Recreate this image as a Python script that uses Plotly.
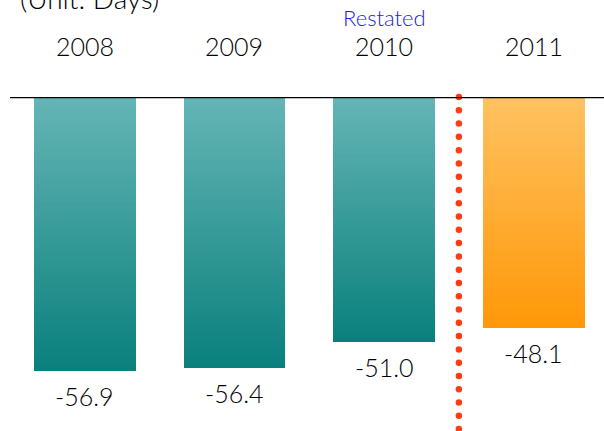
import numpy as np
import plotly.graph_objects as go

years = ["2008", "2009", "2010", "2011"]
values = [-56.9, -56.4, -51.0, -48.1]
value_labels = ["-56.9", "-56.4", "-51.0", "-48.1"]
unit_label = "(Unit: Days)"
restated_label = "Restated"

TEAL_TOP = (102, 182, 182)
TEAL_BOT = (10, 128, 124)
ORANGE_TOP = (255, 194, 98)
ORANGE_BOT = (255, 152, 8)

def mix(c1, c2, t):
    return "rgb(%d,%d,%d)" % tuple(round(a + (b - a) * t) for a, b in zip(c1, c2))

xpos = list(range(len(years)))
fig = go.Figure()

N = 60
for k in range(N):
    frac = (N - k) / N
    ys = [v * frac for v in values]
    cols = []
    for i in range(len(years)):
        if i == 3:
            cols.append(mix(ORANGE_TOP, ORANGE_BOT, frac))
        else:
            cols.append(mix(TEAL_TOP, TEAL_BOT, frac))
    fig.add_trace(go.Bar(x=xpos, y=ys, width=0.68, marker=dict(color=cols, line=dict(width=0)),
                         showlegend=False, hoverinfo="skip"))

# dotted separator between restated and new data
dot_y = np.arange(0, -72, -2.76)
fig.add_trace(go.Scatter(x=[2.5] * len(dot_y), y=dot_y, mode="markers",
                         marker=dict(color="#ff3c14", size=6.5), showlegend=False,
                         cliponaxis=False, hoverinfo="skip"))

FONT = "Lato, 'Noto Sans', sans-serif"
W = 300
annotations = []
for i, (yr, v, lab) in enumerate(zip(years, values, value_labels)):
    annotations.append(dict(x=i, y=1, xref="x", yref="paper", text=yr, showarrow=False,
                            yanchor="middle", yshift=51,
                            font=dict(size=25, color="#000000", family=FONT, weight=W)))
    annotations.append(dict(x=i, y=v, xref="x", yref="y", text=lab, showarrow=False,
                            yanchor="middle", yshift=-25,
                            font=dict(size=25, color="#000000", family=FONT, weight=W)))
annotations.append(dict(x=2, y=1, xref="x", yref="paper", text=restated_label, showarrow=False,
                        yanchor="middle", yshift=80,
                        font=dict(size=22, color="#1a1ae6", family=FONT, weight=W)))
annotations.append(dict(x=0, y=1, xref="paper", yref="paper", text=unit_label, showarrow=False,
                        xanchor="left", yanchor="middle", xshift=8, yshift=99,
                        font=dict(size=28, color="#000000", family=FONT, weight=W)))

fig.update_layout(
    width=604, height=431,
    margin=dict(l=10, r=0, t=97, b=0),
    paper_bgcolor="white", plot_bgcolor="white",
    barmode="overlay", bargap=0,
    annotations=annotations,
    shapes=[dict(type="line", xref="paper", yref="y", x0=0, x1=1, y0=0, y1=0,
                 line=dict(color="black", width=2.5), layer="above")],
    xaxis=dict(range=[-0.5, 3.47], visible=False, fixedrange=True),
    yaxis=dict(range=[-69.4, 0], visible=False, fixedrange=True),
)

fig.write_html("out.html")
